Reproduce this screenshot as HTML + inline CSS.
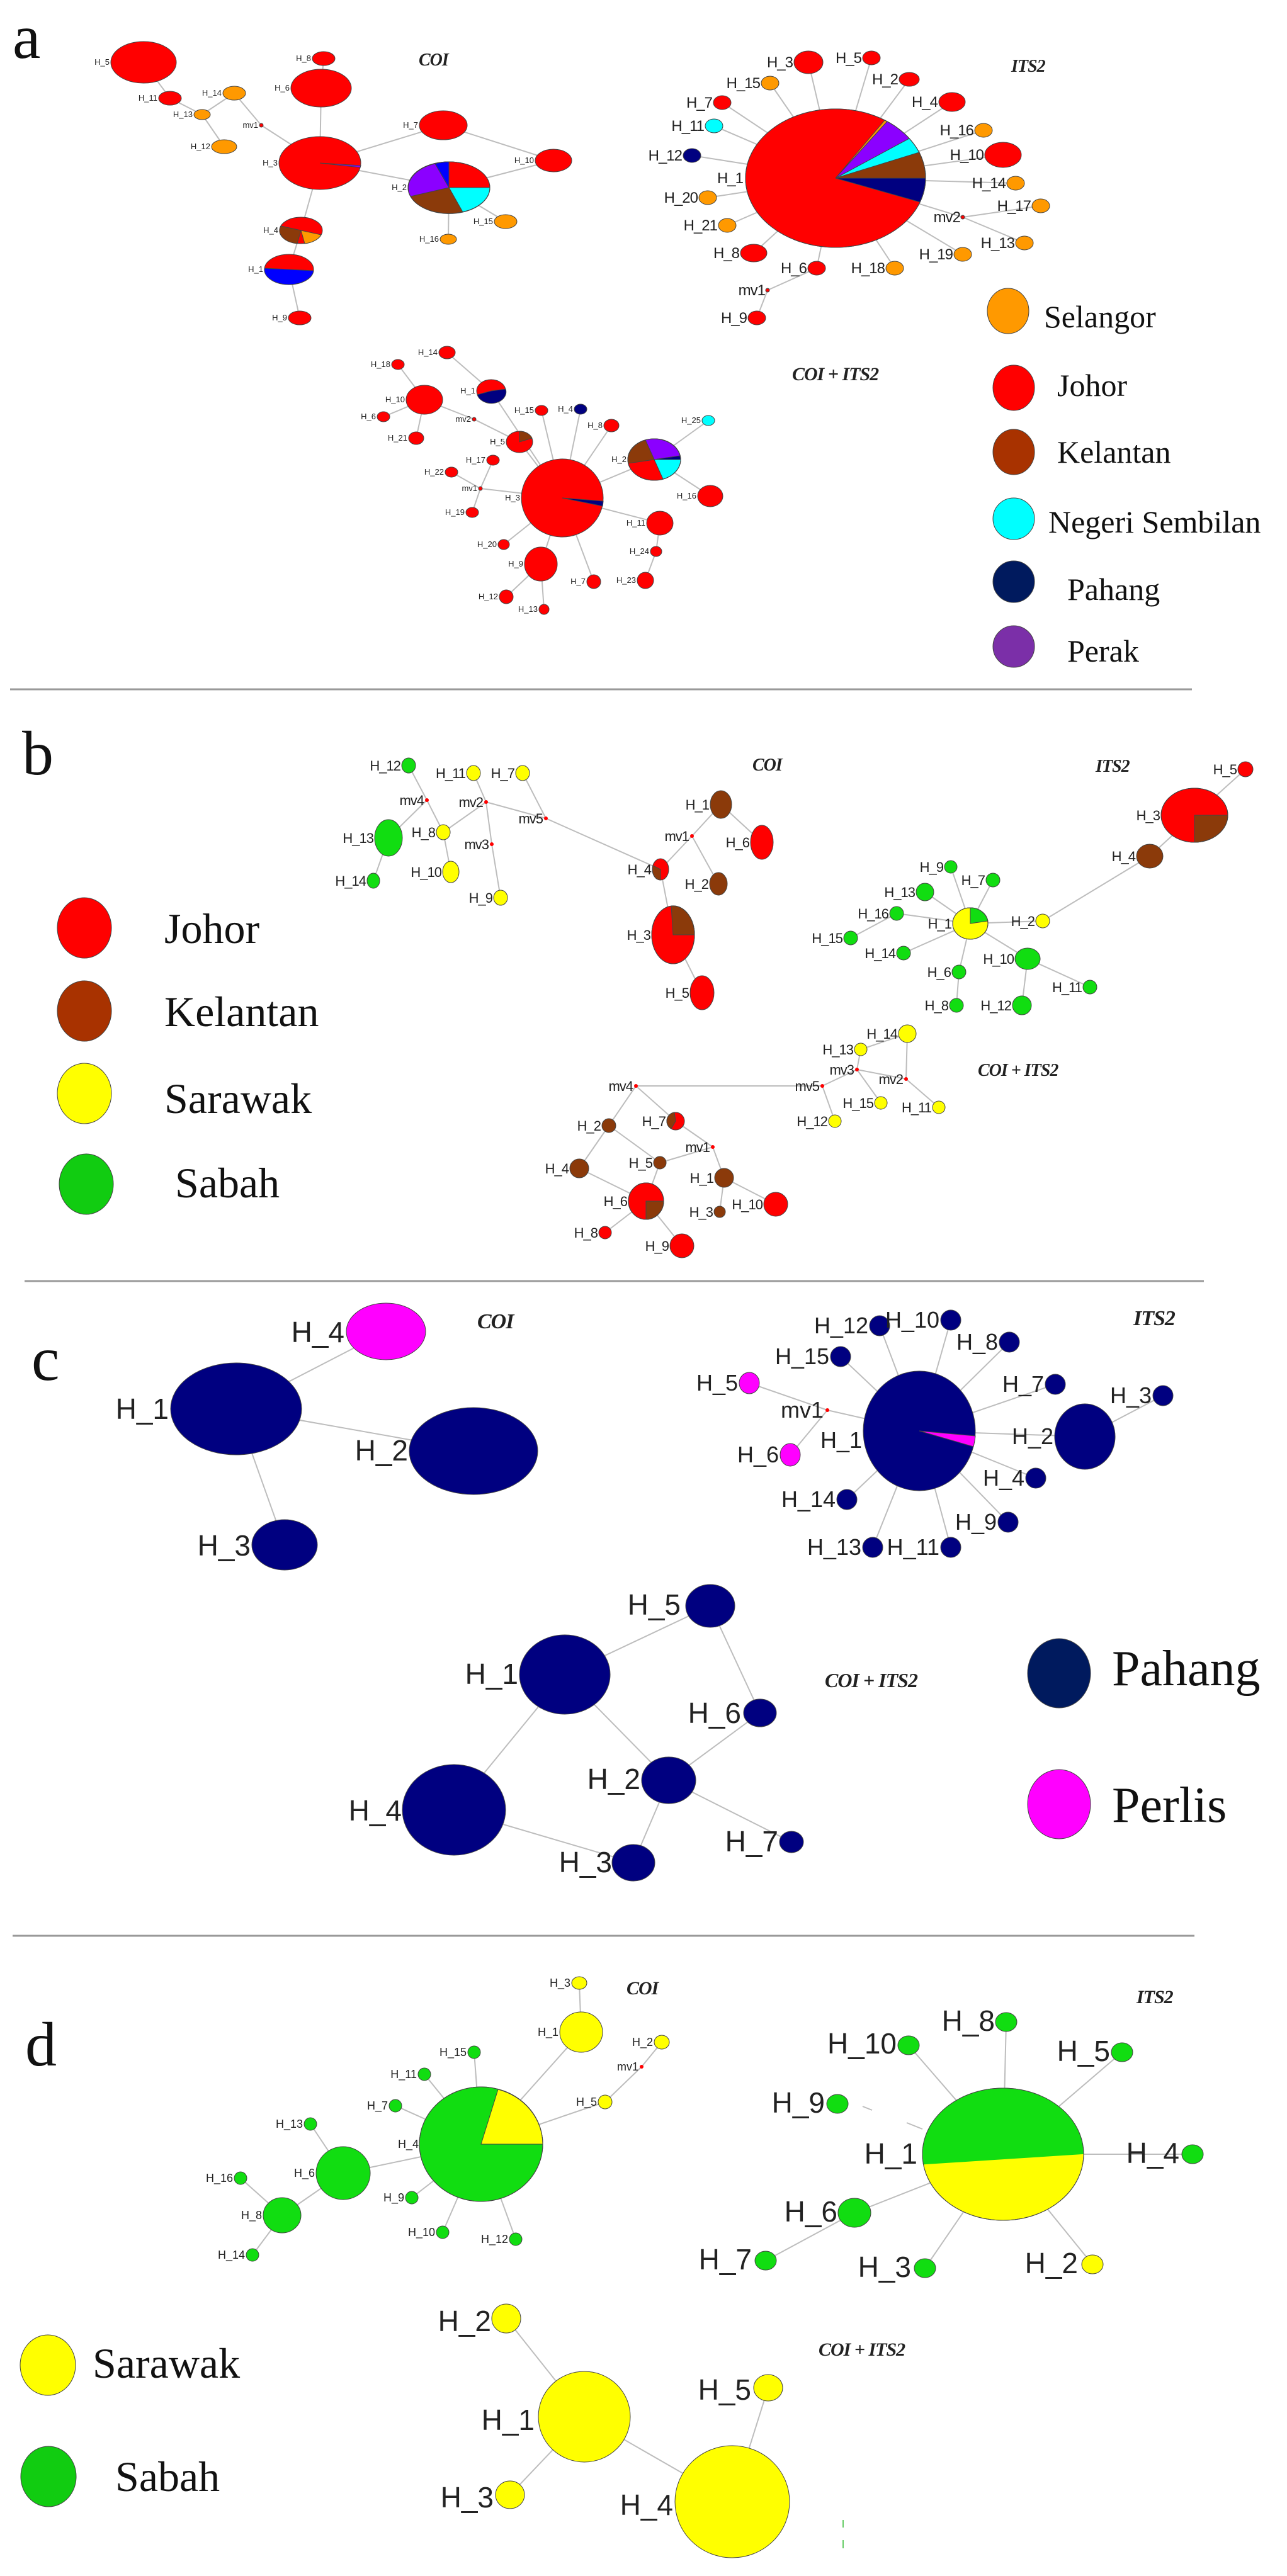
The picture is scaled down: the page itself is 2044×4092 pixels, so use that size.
<!DOCTYPE html>
<html><head><meta charset="utf-8"><style>
body{margin:0;background:#fff}
svg{display:block}
.e line{stroke:#bdbdbd;stroke-width:2}
.n ellipse,.n path{stroke:#444;stroke-width:1}
text{font-family:"Liberation Sans",sans-serif;fill:#222}
.s{font-size:13px;text-anchor:end}
.m{font-size:24px;text-anchor:end;letter-spacing:-1px}
.b{font-size:22px;text-anchor:end;letter-spacing:-1px}
.c{font-size:36px;text-anchor:end}
.L{font-size:46px;text-anchor:end}
.d{font-size:18px;text-anchor:end}
.t{font-family:"Liberation Serif",serif;font-style:italic;font-weight:bold;letter-spacing:-1px}
.g{font-family:"Liberation Serif",serif;fill:#111}
</style></head><body>
<svg width="2044" height="4092" viewBox="0 0 2044 4092" xmlns="http://www.w3.org/2000/svg">
<defs><clipPath id="cd"><ellipse cx="1593" cy="3422" rx="128" ry="105"/></clipPath></defs>
<rect width="2044" height="4092" fill="#fff"/>
<!-- ============ PANEL A ============ -->
<text class="g" x="20" y="92" font-size="100">a</text>
<text class="t" x="665" y="104" font-size="28">COI</text>
<text class="t" x="1606" y="114" font-size="28">ITS2</text>
<text class="t" x="1258" y="604" font-size="30">COI + ITS2</text>
<g class="e">
<line x1="228" y1="99" x2="270" y2="156"/><line x1="270" y1="156" x2="321" y2="182"/>
<line x1="321" y1="182" x2="372" y2="148"/><line x1="321" y1="182" x2="356" y2="233"/>
<line x1="372" y1="148" x2="415" y2="199"/><line x1="415" y1="199" x2="508" y2="259"/>
<line x1="514" y1="93" x2="510" y2="140"/><line x1="510" y1="140" x2="508" y2="259"/>
<line x1="508" y1="259" x2="704" y2="199"/><line x1="704" y1="199" x2="879" y2="255"/>
<line x1="508" y1="259" x2="713" y2="298"/><line x1="879" y1="255" x2="713" y2="298"/>
<line x1="713" y1="298" x2="803" y2="352"/><line x1="713" y1="298" x2="712" y2="380"/>
<line x1="508" y1="259" x2="478" y2="366"/><line x1="478" y1="366" x2="459" y2="428"/>
<line x1="459" y1="428" x2="476" y2="505"/>
<line x1="1327" y1="283" x2="1284" y2="99"/><line x1="1327" y1="283" x2="1384" y2="92"/>
<line x1="1327" y1="283" x2="1444" y2="126"/><line x1="1327" y1="283" x2="1223" y2="132"/>
<line x1="1327" y1="283" x2="1512" y2="162"/><line x1="1327" y1="283" x2="1147" y2="163"/>
<line x1="1327" y1="283" x2="1562" y2="207"/><line x1="1327" y1="283" x2="1134" y2="200"/>
<line x1="1327" y1="283" x2="1593" y2="246"/><line x1="1327" y1="283" x2="1099" y2="247"/>
<line x1="1327" y1="283" x2="1613" y2="291"/><line x1="1327" y1="283" x2="1124" y2="314"/>
<line x1="1327" y1="283" x2="1529" y2="345"/><line x1="1327" y1="283" x2="1155" y2="358"/>
<line x1="1327" y1="283" x2="1529" y2="404"/><line x1="1327" y1="283" x2="1197" y2="402"/>
<line x1="1327" y1="283" x2="1297" y2="426"/><line x1="1327" y1="283" x2="1421" y2="426"/>
<line x1="1529" y1="345" x2="1653" y2="327"/><line x1="1529" y1="345" x2="1627" y2="386"/>
<line x1="1297" y1="426" x2="1219" y2="461"/><line x1="1219" y1="461" x2="1202" y2="505"/>
<line x1="710" y1="560" x2="780" y2="621"/><line x1="632" y1="579" x2="674" y2="635"/>
<line x1="674" y1="635" x2="609" y2="662"/><line x1="674" y1="635" x2="661" y2="696"/>
<line x1="674" y1="635" x2="753" y2="666"/><line x1="753" y1="666" x2="825" y2="702"/>
<line x1="825" y1="702" x2="893" y2="791"/><line x1="780" y1="621" x2="893" y2="791"/>
<line x1="860" y1="652" x2="893" y2="791"/><line x1="922" y1="650" x2="893" y2="791"/>
<line x1="971" y1="676" x2="893" y2="791"/><line x1="1039" y1="730" x2="893" y2="791"/>
<line x1="1039" y1="730" x2="1125" y2="668"/><line x1="1039" y1="730" x2="1128" y2="788"/>
<line x1="783" y1="731" x2="763" y2="776"/><line x1="717" y1="750" x2="763" y2="776"/>
<line x1="763" y1="776" x2="893" y2="791"/><line x1="750" y1="814" x2="763" y2="776"/>
<line x1="893" y1="791" x2="1048" y2="831"/><line x1="1048" y1="831" x2="1042" y2="876"/>
<line x1="893" y1="791" x2="800" y2="865"/><line x1="893" y1="791" x2="859" y2="896"/>
<line x1="859" y1="896" x2="804" y2="948"/><line x1="859" y1="896" x2="864" y2="968"/>
<line x1="893" y1="791" x2="943" y2="924"/><line x1="1042" y1="876" x2="1025" y2="922"/>
</g>
<g class="n">
<ellipse cx="228" cy="99" rx="52" ry="33" fill="#f00"/>
<ellipse cx="514" cy="93" rx="18" ry="11" fill="#f00"/>
<ellipse cx="510" cy="140" rx="48" ry="30" fill="#f00"/>
<ellipse cx="270" cy="156" rx="18" ry="11" fill="#f00"/>
<ellipse cx="372" cy="148" rx="18" ry="11" fill="#ff9900"/>
<ellipse cx="321" cy="182" rx="13" ry="8" fill="#ff9900"/>
<ellipse cx="356" cy="233" rx="20" ry="11" fill="#ff9900"/>
<ellipse cx="704" cy="199" rx="38" ry="23" fill="#f00"/>
<ellipse cx="508" cy="259" rx="65" ry="42" fill="#f00"/>
<path d="M508 259 L573 263 A65 42 0 0 1 572 266 Z" fill="#8b00ff" stroke="none"/>
<ellipse cx="879" cy="255" rx="29" ry="18" fill="#f00"/>
<ellipse cx="713" cy="298" rx="65" ry="41" fill="#f00"/>
<path d="M713 298 L778 298 A65 41 0 0 1 735 337 Z" fill="#00ffff" stroke="none"/>
<path d="M713 298 L735 337 A65 41 0 0 1 652 312 Z" fill="#8b3a0a" stroke="none"/>
<path d="M713 298 L652 312 A65 41 0 0 1 691 260 Z" fill="#8b00ff" stroke="none"/>
<path d="M713 298 L691 260 A65 41 0 0 1 713 257 Z" fill="#0000ff" stroke="none"/>
<ellipse cx="713" cy="298" rx="65" ry="41" fill="none"/>
<ellipse cx="803" cy="352" rx="18" ry="11" fill="#ff9900"/>
<ellipse cx="712" cy="380" rx="13" ry="8" fill="#ff9900"/>
<ellipse cx="478" cy="366" rx="34" ry="21" fill="#f00"/>
<path d="M478 366 L472 387 A34 21 0 0 1 446 359 Z" fill="#8b3a0a" stroke="none"/>
<path d="M478 366 L510 373 A34 21 0 0 1 484 387 Z" fill="#ff9900" stroke="none"/>
<ellipse cx="459" cy="428" rx="39" ry="24" fill="#f00"/>
<path d="M498 430 A39 24 0 0 1 420 426 Z" fill="#0000ff" stroke="none"/>
<ellipse cx="476" cy="505" rx="18" ry="11" fill="#f00"/>
<ellipse cx="415" cy="199" rx="3" ry="3" fill="#f00" stroke="none"/>
<ellipse cx="1327" cy="283" rx="143" ry="110" fill="#f00"/>
<path d="M1327 283 L1405 191 A143 110 0 0 1 1409 193 Z" fill="#ff9900" stroke="none"/>
<path d="M1327 283 L1409 193 A143 110 0 0 1 1444 220 Z" fill="#8b00ff" stroke="none"/>
<path d="M1327 283 L1444 220 A143 110 0 0 1 1460 242 Z" fill="#00ffff" stroke="none"/>
<path d="M1327 283 L1460 242 A143 110 0 0 1 1470 283 Z" fill="#8b3a0a" stroke="none"/>
<path d="M1327 283 L1470 283 A143 110 0 0 1 1461 321 Z" fill="#000080" stroke="none"/>
<ellipse cx="1327" cy="283" rx="143" ry="110" fill="none"/>
<ellipse cx="1284" cy="99" rx="23" ry="18" fill="#f00"/>
<ellipse cx="1384" cy="92" rx="14" ry="11" fill="#f00"/>
<ellipse cx="1444" cy="126" rx="16" ry="11" fill="#f00"/>
<ellipse cx="1223" cy="132" rx="14" ry="11" fill="#ff9900"/>
<ellipse cx="1512" cy="162" rx="21" ry="15" fill="#f00"/>
<ellipse cx="1147" cy="163" rx="14" ry="11" fill="#f00"/>
<ellipse cx="1562" cy="207" rx="14" ry="11" fill="#ff9900"/>
<ellipse cx="1134" cy="200" rx="14" ry="11" fill="#00ffff"/>
<ellipse cx="1593" cy="246" rx="29" ry="20" fill="#f00"/>
<ellipse cx="1099" cy="247" rx="14" ry="11" fill="#000080"/>
<ellipse cx="1613" cy="291" rx="14" ry="11" fill="#ff9900"/>
<ellipse cx="1124" cy="314" rx="14" ry="11" fill="#ff9900"/>
<ellipse cx="1653" cy="327" rx="14" ry="11" fill="#ff9900"/>
<ellipse cx="1155" cy="358" rx="14" ry="11" fill="#ff9900"/>
<ellipse cx="1627" cy="386" rx="14" ry="11" fill="#ff9900"/>
<ellipse cx="1529" cy="404" rx="14" ry="11" fill="#ff9900"/>
<ellipse cx="1197" cy="402" rx="21" ry="14" fill="#f00"/>
<ellipse cx="1297" cy="426" rx="14" ry="11" fill="#f00"/>
<ellipse cx="1421" cy="426" rx="14" ry="11" fill="#ff9900"/>
<ellipse cx="1202" cy="505" rx="14" ry="11" fill="#f00"/>
<ellipse cx="1529" cy="345" rx="3" ry="3" fill="#f00" stroke="none"/>
<ellipse cx="1219" cy="461" rx="3" ry="3" fill="#f00" stroke="none"/>
<ellipse cx="710" cy="560" rx="13" ry="10" fill="#f00"/>
<ellipse cx="632" cy="579" rx="10" ry="8" fill="#f00"/>
<ellipse cx="780" cy="621" rx="23" ry="18" fill="#f00"/>
<path d="M780 621 L803 618 A23 18 0 0 1 758 627 Z" fill="#000080" stroke="none"/>
<ellipse cx="674" cy="635" rx="29" ry="23" fill="#f00"/>
<ellipse cx="609" cy="662" rx="10" ry="8" fill="#f00"/>
<ellipse cx="860" cy="652" rx="10" ry="8" fill="#f00"/>
<ellipse cx="922" cy="650" rx="10" ry="8" fill="#000080"/>
<ellipse cx="971" cy="676" rx="12" ry="10" fill="#f00"/>
<ellipse cx="1125" cy="668" rx="10" ry="8" fill="#00ffff"/>
<ellipse cx="661" cy="696" rx="12" ry="10" fill="#f00"/>
<ellipse cx="825" cy="702" rx="21" ry="17" fill="#f00"/>
<path d="M825 702 L825 685 A21 17 0 0 1 845 696 Z" fill="#8b3a0a" stroke="none"/>
<ellipse cx="1039" cy="730" rx="42" ry="33" fill="#f00"/>
<path d="M1039 730 L1025 699 A42 33 0 0 1 1080 724 Z" fill="#8b00ff" stroke="none"/>
<path d="M1039 730 L1080 724 A42 33 0 0 1 1081 730 Z" fill="#000080" stroke="none"/>
<path d="M1039 730 L1081 730 A42 33 0 0 1 1053 761 Z" fill="#00ffff" stroke="none"/>
<path d="M1039 730 L998 736 A42 33 0 0 1 1025 699 Z" fill="#8b3a0a" stroke="none"/>
<ellipse cx="1039" cy="730" rx="42" ry="33" fill="none"/>
<ellipse cx="783" cy="731" rx="10" ry="8" fill="#f00"/>
<ellipse cx="717" cy="750" rx="10" ry="8" fill="#f00"/>
<ellipse cx="893" cy="791" rx="65" ry="62" fill="#f00"/>
<path d="M893 791 L958 796 A65 62 0 0 1 957 804 Z" fill="#000080" stroke="none"/>
<ellipse cx="1128" cy="788" rx="20" ry="17" fill="#f00"/>
<ellipse cx="750" cy="814" rx="10" ry="8" fill="#f00"/>
<ellipse cx="1048" cy="831" rx="21" ry="19" fill="#f00"/>
<ellipse cx="800" cy="865" rx="9" ry="8" fill="#f00"/>
<ellipse cx="1042" cy="876" rx="9" ry="8" fill="#f00"/>
<ellipse cx="859" cy="896" rx="26" ry="27" fill="#f00"/>
<ellipse cx="943" cy="924" rx="11" ry="11" fill="#f00"/>
<ellipse cx="1025" cy="922" rx="13" ry="13" fill="#f00"/>
<ellipse cx="804" cy="948" rx="11" ry="11" fill="#f00"/>
<ellipse cx="864" cy="968" rx="8" ry="8" fill="#f00"/>
<ellipse cx="753" cy="666" rx="3" ry="3" fill="#f00" stroke="none"/>
<ellipse cx="763" cy="776" rx="3" ry="3" fill="#f00" stroke="none"/>
</g>
<g>
<text class="s" x="174" y="103">H_5</text><text class="s" x="494" y="97">H_8</text>
<text class="s" x="460" y="144">H_6</text><text class="s" x="250" y="160">H_11</text>
<text class="s" x="352" y="152">H_14</text><text class="s" x="306" y="186">H_13</text>
<text class="s" x="410" y="203">mv1</text><text class="s" x="334" y="237">H_12</text>
<text class="s" x="664" y="203">H_7</text><text class="s" x="441" y="263">H_3</text>
<text class="s" x="848" y="259">H_10</text><text class="s" x="646" y="302">H_2</text>
<text class="s" x="783" y="356">H_15</text><text class="s" x="697" y="384">H_16</text>
<text class="s" x="442" y="370">H_4</text><text class="s" x="418" y="432">H_1</text>
<text class="s" x="456" y="509">H_9</text>
<text class="m" x="1259" y="107">H_3</text><text class="m" x="1368" y="100">H_5</text>
<text class="m" x="1426" y="134">H_2</text><text class="m" x="1207" y="140">H_15</text>
<text class="m" x="1489" y="170">H_4</text><text class="m" x="1131" y="171">H_7</text>
<text class="m" x="1546" y="215">H_16</text><text class="m" x="1118" y="208">H_11</text>
<text class="m" x="1562" y="254">H_10</text><text class="m" x="1083" y="255">H_12</text>
<text class="m" x="1597" y="299">H_14</text><text class="m" x="1108" y="322">H_20</text>
<text class="m" x="1637" y="335">H_17</text><text class="m" x="1525" y="353">mv2</text>
<text class="m" x="1139" y="366">H_21</text><text class="m" x="1611" y="394">H_13</text>
<text class="m" x="1513" y="412">H_19</text><text class="m" x="1174" y="410">H_8</text>
<text class="m" x="1281" y="434">H_6</text><text class="m" x="1405" y="434">H_18</text>
<text class="m" x="1215" y="469">mv1</text><text class="m" x="1186" y="513">H_9</text>
<text class="m" x="1180" y="291">H_1</text>
<text class="s" x="695" y="564">H_14</text><text class="s" x="620" y="583">H_18</text>
<text class="s" x="755" y="625">H_1</text><text class="s" x="643" y="639">H_10</text>
<text class="s" x="597" y="666">H_6</text><text class="s" x="748" y="670">mv2</text>
<text class="s" x="848" y="656">H_15</text><text class="s" x="910" y="654">H_4</text>
<text class="s" x="957" y="680">H_8</text><text class="s" x="1113" y="672">H_25</text>
<text class="s" x="647" y="700">H_21</text><text class="s" x="802" y="706">H_5</text>
<text class="s" x="995" y="734">H_2</text><text class="s" x="771" y="735">H_17</text>
<text class="s" x="705" y="754">H_22</text><text class="s" x="758" y="780">mv1</text>
<text class="s" x="826" y="795">H_3</text><text class="s" x="1106" y="792">H_16</text>
<text class="s" x="738" y="818">H_19</text><text class="s" x="1025" y="835">H_11</text>
<text class="s" x="789" y="869">H_20</text><text class="s" x="1031" y="880">H_24</text>
<text class="s" x="831" y="900">H_9</text><text class="s" x="930" y="928">H_7</text>
<text class="s" x="1010" y="926">H_23</text><text class="s" x="791" y="952">H_12</text>
<text class="s" x="854" y="972">H_13</text>
</g>
<g class="n">
<ellipse cx="1601" cy="494" rx="33" ry="36" fill="#ff9900" stroke="#000" stroke-width="2"/>
<ellipse cx="1610" cy="616" rx="33" ry="36" fill="#f00" stroke="#000" stroke-width="2"/>
<ellipse cx="1610" cy="718" rx="33" ry="36" fill="#a83200" stroke="#000" stroke-width="2"/>
<ellipse cx="1610" cy="824" rx="33" ry="33" fill="#00ffff" stroke="#000" stroke-width="2"/>
<ellipse cx="1610" cy="924" rx="33" ry="33" fill="#001a5e" stroke="#000" stroke-width="2"/>
<ellipse cx="1610" cy="1027" rx="33" ry="33" fill="#7b2fa8" stroke="#000" stroke-width="2"/>
</g>
<text class="g" x="1658" y="520" font-size="50">Selangor</text>
<text class="g" x="1679" y="629" font-size="50">Johor</text>
<text class="g" x="1679" y="735" font-size="50">Kelantan</text>
<text class="g" x="1665" y="846" font-size="50">Negeri Sembilan</text>
<text class="g" x="1695" y="953" font-size="50">Pahang</text>
<text class="g" x="1695" y="1051" font-size="50">Perak</text>
<line x1="16" y1="1095" x2="1893" y2="1095" stroke="#999" stroke-width="3"/>

<!-- ============ PANEL B ============ -->
<text class="g" x="35" y="1230" font-size="100">b</text>
<text class="t" x="1195" y="1224" font-size="28">COI</text>
<text class="t" x="1740" y="1226" font-size="28">ITS2</text>
<text class="t" x="1553" y="1709" font-size="28">COI + ITS2</text>
<g class="e">
<line x1="649" y1="1216" x2="678" y2="1271"/><line x1="678" y1="1271" x2="617" y2="1331"/>
<line x1="617" y1="1331" x2="593" y2="1399"/><line x1="678" y1="1271" x2="704" y2="1322"/>
<line x1="752" y1="1228" x2="772" y2="1274"/><line x1="772" y1="1274" x2="704" y2="1322"/>
<line x1="704" y1="1322" x2="716" y2="1385"/><line x1="772" y1="1274" x2="781" y2="1341"/>
<line x1="781" y1="1341" x2="795" y2="1426"/><line x1="772" y1="1274" x2="867" y2="1300"/>
<line x1="830" y1="1228" x2="867" y2="1300"/><line x1="867" y1="1300" x2="1049" y2="1381"/>
<line x1="1049" y1="1381" x2="1099" y2="1328"/><line x1="1099" y1="1328" x2="1145" y2="1278"/>
<line x1="1145" y1="1278" x2="1210" y2="1338"/><line x1="1099" y1="1328" x2="1141" y2="1404"/>
<line x1="1049" y1="1381" x2="1069" y2="1485"/><line x1="1069" y1="1485" x2="1115" y2="1577"/>
<line x1="1978" y1="1222" x2="1897" y2="1295"/><line x1="1897" y1="1295" x2="1826" y2="1360"/>
<line x1="1826" y1="1360" x2="1656" y2="1463"/><line x1="1656" y1="1463" x2="1541" y2="1467"/>
<line x1="1541" y1="1467" x2="1510" y2="1377"/><line x1="1541" y1="1467" x2="1577" y2="1398"/>
<line x1="1541" y1="1467" x2="1469" y2="1417"/><line x1="1541" y1="1467" x2="1424" y2="1451"/>
<line x1="1541" y1="1467" x2="1435" y2="1514"/><line x1="1541" y1="1467" x2="1523" y2="1544"/>
<line x1="1541" y1="1467" x2="1632" y2="1523"/><line x1="1424" y1="1451" x2="1351" y2="1490"/>
<line x1="1632" y1="1523" x2="1731" y2="1568"/><line x1="1632" y1="1523" x2="1623" y2="1597"/>
<line x1="1523" y1="1544" x2="1519" y2="1597"/>
<line x1="1441" y1="1642" x2="1367" y2="1667"/><line x1="1367" y1="1667" x2="1361" y2="1699"/>
<line x1="1441" y1="1642" x2="1439" y2="1714"/><line x1="1439" y1="1714" x2="1491" y2="1759"/>
<line x1="1361" y1="1699" x2="1439" y2="1714"/><line x1="1361" y1="1699" x2="1306" y2="1725"/>
<line x1="1361" y1="1699" x2="1399" y2="1752"/><line x1="1306" y1="1725" x2="1326" y2="1781"/>
<line x1="1306" y1="1725" x2="1010" y2="1725"/><line x1="1010" y1="1725" x2="967" y2="1788"/>
<line x1="1010" y1="1725" x2="1073" y2="1781"/><line x1="967" y1="1788" x2="920" y2="1856"/>
<line x1="967" y1="1788" x2="1048" y2="1847"/><line x1="1073" y1="1781" x2="1132" y2="1822"/>
<line x1="1132" y1="1822" x2="1048" y2="1847"/><line x1="1132" y1="1822" x2="1150" y2="1871"/>
<line x1="1150" y1="1871" x2="1143" y2="1925"/><line x1="1150" y1="1871" x2="1232" y2="1913"/>
<line x1="920" y1="1856" x2="1026" y2="1908"/><line x1="1048" y1="1847" x2="1026" y2="1908"/>
<line x1="1026" y1="1908" x2="961" y2="1958"/><line x1="1026" y1="1908" x2="1083" y2="1979"/>
</g>
<g class="n">
<ellipse cx="649" cy="1216" rx="11" ry="12" fill="#1d1"/>
<ellipse cx="752" cy="1228" rx="11" ry="12" fill="#ff0"/>
<ellipse cx="830" cy="1228" rx="11" ry="12" fill="#ff0"/>
<ellipse cx="617" cy="1331" rx="22" ry="29" fill="#1d1"/>
<ellipse cx="704" cy="1322" rx="11" ry="12" fill="#ff0"/>
<ellipse cx="593" cy="1399" rx="10" ry="12" fill="#1d1"/>
<ellipse cx="716" cy="1385" rx="13" ry="17" fill="#ff0"/>
<ellipse cx="795" cy="1426" rx="11" ry="12" fill="#ff0"/>
<ellipse cx="1145" cy="1278" rx="17" ry="22" fill="#8b3a0a"/>
<ellipse cx="1210" cy="1338" rx="18" ry="27" fill="#f00"/>
<ellipse cx="1049" cy="1381" rx="13" ry="17" fill="#f00"/>
<path d="M1049 1381 L1049 1398 A13 17 0 0 1 1037 1375 Z" fill="#8b3a0a" stroke="none"/>
<ellipse cx="1141" cy="1404" rx="14" ry="18" fill="#8b3a0a"/>
<ellipse cx="1069" cy="1485" rx="34" ry="46" fill="#f00"/>
<path d="M1069 1485 L1066 1439 A34 46 0 0 1 1103 1485 Z" fill="#8b3a0a" stroke="none"/>
<ellipse cx="1069" cy="1485" rx="34" ry="46" fill="none"/>
<ellipse cx="1115" cy="1577" rx="19" ry="27" fill="#f00"/>
<ellipse cx="1978" cy="1222" rx="12" ry="12" fill="#f00"/>
<ellipse cx="1897" cy="1295" rx="53" ry="43" fill="#f00"/>
<path d="M1897 1295 L1950 1295 A53 43 0 0 1 1897 1338 Z" fill="#8b3a0a" stroke="none"/>
<ellipse cx="1897" cy="1295" rx="53" ry="43" fill="none"/>
<ellipse cx="1826" cy="1360" rx="21" ry="19" fill="#8b3a0a"/>
<ellipse cx="1510" cy="1377" rx="10" ry="10" fill="#1d1"/>
<ellipse cx="1577" cy="1398" rx="11" ry="11" fill="#1d1"/>
<ellipse cx="1469" cy="1417" rx="14" ry="14" fill="#1d1"/>
<ellipse cx="1424" cy="1451" rx="11" ry="11" fill="#1d1"/>
<ellipse cx="1541" cy="1467" rx="28" ry="25" fill="#ff0"/>
<path d="M1541 1467 L1541 1442 A28 25 0 0 1 1569 1463 Z" fill="#1d1" stroke="none"/>
<ellipse cx="1541" cy="1467" rx="28" ry="25" fill="none"/>
<ellipse cx="1656" cy="1463" rx="11" ry="11" fill="#ff0"/>
<ellipse cx="1351" cy="1490" rx="11" ry="11" fill="#1d1"/>
<ellipse cx="1435" cy="1514" rx="11" ry="11" fill="#1d1"/>
<ellipse cx="1632" cy="1523" rx="20" ry="17" fill="#1d1"/>
<ellipse cx="1523" cy="1544" rx="11" ry="11" fill="#1d1"/>
<ellipse cx="1731" cy="1568" rx="11" ry="11" fill="#1d1"/>
<ellipse cx="1519" cy="1597" rx="11" ry="11" fill="#1d1"/>
<ellipse cx="1623" cy="1597" rx="15" ry="15" fill="#1d1"/>
<ellipse cx="1441" cy="1642" rx="14" ry="14" fill="#ff0"/>
<ellipse cx="1367" cy="1667" rx="10" ry="10" fill="#ff0"/>
<ellipse cx="1399" cy="1752" rx="10" ry="10" fill="#ff0"/>
<ellipse cx="1491" cy="1759" rx="10" ry="10" fill="#ff0"/>
<ellipse cx="1326" cy="1781" rx="10" ry="10" fill="#ff0"/>
<ellipse cx="967" cy="1788" rx="11" ry="11" fill="#8b3a0a"/>
<ellipse cx="1073" cy="1781" rx="14" ry="14" fill="#f00"/>
<path d="M1073 1781 L1066 1793 A14 14 0 0 1 1071 1767 Z" fill="#8b3a0a" stroke="none"/>
<ellipse cx="1048" cy="1847" rx="10" ry="10" fill="#8b3a0a"/>
<ellipse cx="920" cy="1856" rx="15" ry="15" fill="#8b3a0a"/>
<ellipse cx="1150" cy="1871" rx="15" ry="15" fill="#8b3a0a"/>
<ellipse cx="1026" cy="1908" rx="28" ry="29" fill="#f00"/>
<path d="M1026 1908 L1054 1908 A28 29 0 0 1 1026 1937 Z" fill="#8b3a0a" stroke="none"/>
<ellipse cx="1026" cy="1908" rx="28" ry="29" fill="none"/>
<ellipse cx="1143" cy="1925" rx="9" ry="9" fill="#8b3a0a"/>
<ellipse cx="1232" cy="1913" rx="19" ry="19" fill="#f00"/>
<ellipse cx="961" cy="1958" rx="10" ry="10" fill="#f00"/>
<ellipse cx="1083" cy="1979" rx="19" ry="19" fill="#f00"/>
<g fill="#f00" stroke="none">
<circle cx="678" cy="1271" r="3"/><circle cx="772" cy="1274" r="3"/><circle cx="867" cy="1300" r="3"/>
<circle cx="781" cy="1341" r="3"/><circle cx="1099" cy="1328" r="3"/><circle cx="1361" cy="1699" r="3"/>
<circle cx="1439" cy="1714" r="3"/><circle cx="1306" cy="1725" r="3"/><circle cx="1010" cy="1725" r="3"/>
<circle cx="1132" cy="1822" r="3"/></g>
</g>
<g>
<text class="b" x="636" y="1224">H_12</text><text class="b" x="739" y="1236">H_11</text>
<text class="b" x="817" y="1236">H_7</text><text class="b" x="673" y="1279">mv4</text>
<text class="b" x="767" y="1282">mv2</text><text class="b" x="862" y="1308">mv5</text>
<text class="b" x="593" y="1339">H_13</text><text class="b" x="691" y="1330">H_8</text>
<text class="b" x="776" y="1349">mv3</text><text class="b" x="581" y="1407">H_14</text>
<text class="b" x="701" y="1393">H_10</text><text class="b" x="782" y="1434">H_9</text>
<text class="b" x="1126" y="1286">H_1</text><text class="b" x="1094" y="1336">mv1</text>
<text class="b" x="1190" y="1346">H_6</text><text class="b" x="1034" y="1389">H_4</text>
<text class="b" x="1125" y="1412">H_2</text><text class="b" x="1033" y="1493">H_3</text>
<text class="b" x="1094" y="1585">H_5</text>
<text class="b" x="1964" y="1230">H_5</text><text class="b" x="1842" y="1303">H_3</text>
<text class="b" x="1803" y="1368">H_4</text><text class="b" x="1498" y="1385">H_9</text>
<text class="b" x="1564" y="1406">H_7</text><text class="b" x="1453" y="1425">H_13</text>
<text class="b" x="1411" y="1459">H_16</text><text class="b" x="1511" y="1475">H_1</text>
<text class="b" x="1643" y="1471">H_2</text><text class="b" x="1338" y="1498">H_15</text>
<text class="b" x="1422" y="1522">H_14</text><text class="b" x="1610" y="1531">H_10</text>
<text class="b" x="1510" y="1552">H_6</text><text class="b" x="1718" y="1576">H_11</text>
<text class="b" x="1506" y="1605">H_8</text><text class="b" x="1606" y="1605">H_12</text>
<text class="b" x="1425" y="1650">H_14</text><text class="b" x="1355" y="1675">H_13</text>
<text class="b" x="1356" y="1707">mv3</text><text class="b" x="1434" y="1722">mv2</text>
<text class="b" x="1301" y="1733">mv5</text><text class="b" x="1005" y="1733">mv4</text>
<text class="b" x="1387" y="1760">H_15</text><text class="b" x="1479" y="1767">H_11</text>
<text class="b" x="1314" y="1789">H_12</text><text class="b" x="954" y="1796">H_2</text>
<text class="b" x="1057" y="1789">H_7</text><text class="b" x="1127" y="1830">mv1</text>
<text class="b" x="1036" y="1855">H_5</text><text class="b" x="903" y="1864">H_4</text>
<text class="b" x="1133" y="1879">H_1</text><text class="b" x="996" y="1916">H_6</text>
<text class="b" x="1132" y="1933">H_3</text><text class="b" x="1211" y="1921">H_10</text>
<text class="b" x="949" y="1966">H_8</text><text class="b" x="1062" y="1987">H_9</text>
</g>
<g class="n">
<ellipse cx="134" cy="1474" rx="43" ry="48" fill="#f00" stroke="#000" stroke-width="2"/>
<ellipse cx="134" cy="1606" rx="43" ry="48" fill="#a83200" stroke="#000" stroke-width="2"/>
<ellipse cx="134" cy="1737" rx="43" ry="48" fill="#ff0" stroke="#000" stroke-width="2"/>
<ellipse cx="137" cy="1881" rx="43" ry="48" fill="#1c1" stroke="#000" stroke-width="2"/>
</g>
<text class="g" x="261" y="1498" font-size="68">Johor</text>
<text class="g" x="261" y="1630" font-size="68">Kelantan</text>
<text class="g" x="261" y="1768" font-size="68">Sarawak</text>
<text class="g" x="278" y="1902" font-size="68">Sabah</text>
<line x1="39" y1="2035" x2="1912" y2="2035" stroke="#999" stroke-width="3"/>

<!-- ============ PANEL C ============ -->
<text class="g" x="50" y="2192" font-size="100">c</text>
<text class="t" x="758" y="2110" font-size="34">COI</text>
<text class="t" x="1800" y="2105" font-size="34">ITS2</text>
<text class="t" x="1310" y="2680" font-size="32">COI + ITS2</text>
<g class="e">
<line x1="375" y1="2238" x2="613" y2="2115"/><line x1="375" y1="2238" x2="752" y2="2305"/>
<line x1="375" y1="2238" x2="452" y2="2454"/>
<line x1="1460" y1="2273" x2="1397" y2="2106"/><line x1="1460" y1="2273" x2="1510" y2="2097"/>
<line x1="1460" y1="2273" x2="1603" y2="2132"/><line x1="1460" y1="2273" x2="1335" y2="2155"/>
<line x1="1460" y1="2273" x2="1676" y2="2199"/><line x1="1460" y1="2273" x2="1723" y2="2282"/>
<line x1="1460" y1="2273" x2="1314" y2="2240"/><line x1="1460" y1="2273" x2="1645" y2="2348"/>
<line x1="1460" y1="2273" x2="1345" y2="2382"/><line x1="1460" y1="2273" x2="1601" y2="2418"/>
<line x1="1460" y1="2273" x2="1386" y2="2458"/><line x1="1460" y1="2273" x2="1510" y2="2458"/>
<line x1="1314" y1="2240" x2="1190" y2="2197"/><line x1="1314" y1="2240" x2="1255" y2="2311"/>
<line x1="1723" y1="2282" x2="1847" y2="2217"/>
<line x1="897" y1="2660" x2="1128" y2="2551"/><line x1="1128" y1="2551" x2="1207" y2="2721"/>
<line x1="1207" y1="2721" x2="1062" y2="2828"/><line x1="897" y1="2660" x2="1062" y2="2828"/>
<line x1="897" y1="2660" x2="721" y2="2875"/><line x1="721" y1="2875" x2="1006" y2="2959"/>
<line x1="1062" y1="2828" x2="1006" y2="2959"/><line x1="1062" y1="2828" x2="1257" y2="2926"/>
</g>
<g class="n">
<ellipse cx="613" cy="2115" rx="63" ry="45" fill="#f0f"/>
<ellipse cx="375" cy="2238" rx="104" ry="73" fill="#000080"/>
<ellipse cx="752" cy="2305" rx="102" ry="69" fill="#000080"/>
<ellipse cx="452" cy="2454" rx="52" ry="40" fill="#000080"/>
<ellipse cx="1460" cy="2273" rx="89" ry="95" fill="#000080"/>
<path d="M1460 2273 L1549 2281 A89 95 0 0 1 1546 2298 Z" fill="#f0f" stroke="none"/>
<ellipse cx="1397" cy="2106" rx="16" ry="16" fill="#000080"/>
<ellipse cx="1510" cy="2097" rx="16" ry="16" fill="#000080"/>
<ellipse cx="1603" cy="2132" rx="16" ry="16" fill="#000080"/>
<ellipse cx="1335" cy="2155" rx="16" ry="16" fill="#000080"/>
<ellipse cx="1190" cy="2197" rx="16" ry="17" fill="#f0f"/>
<ellipse cx="1676" cy="2199" rx="16" ry="16" fill="#000080"/>
<ellipse cx="1847" cy="2217" rx="16" ry="16" fill="#000080"/>
<ellipse cx="1723" cy="2282" rx="48" ry="52" fill="#000080"/>
<ellipse cx="1255" cy="2311" rx="16" ry="18" fill="#f0f"/>
<ellipse cx="1645" cy="2348" rx="16" ry="16" fill="#000080"/>
<ellipse cx="1345" cy="2382" rx="16" ry="16" fill="#000080"/>
<ellipse cx="1601" cy="2418" rx="16" ry="16" fill="#000080"/>
<ellipse cx="1386" cy="2458" rx="16" ry="16" fill="#000080"/>
<ellipse cx="1510" cy="2458" rx="16" ry="16" fill="#000080"/>
<circle cx="1314" cy="2240" r="3" fill="#f00" stroke="none"/>
<ellipse cx="1128" cy="2551" rx="39" ry="34" fill="#000080"/>
<ellipse cx="897" cy="2660" rx="72" ry="63" fill="#000080"/>
<ellipse cx="1207" cy="2721" rx="26" ry="22" fill="#000080"/>
<ellipse cx="1062" cy="2828" rx="43" ry="37" fill="#000080"/>
<ellipse cx="721" cy="2875" rx="82" ry="72" fill="#000080"/>
<ellipse cx="1257" cy="2926" rx="19" ry="17" fill="#000080"/>
<ellipse cx="1006" cy="2959" rx="34" ry="29" fill="#000080"/>
</g>
<g>
<text class="L" x="547" y="2132">H_4</text><text class="L" x="268" y="2254">H_1</text>
<text class="L" x="648" y="2320">H_2</text><text class="L" x="398" y="2471">H_3</text>
<text class="c" x="1379" y="2118">H_12</text><text class="c" x="1492" y="2109">H_10</text>
<text class="c" x="1585" y="2144">H_8</text><text class="c" x="1317" y="2167">H_15</text>
<text class="c" x="1172" y="2209">H_5</text><text class="c" x="1658" y="2211">H_7</text>
<text class="c" x="1308" y="2252">mv1</text><text class="c" x="1829" y="2229">H_3</text>
<text class="c" x="1673" y="2294">H_2</text><text class="c" x="1369" y="2300">H_1</text>
<text class="c" x="1237" y="2323">H_6</text><text class="c" x="1627" y="2360">H_4</text>
<text class="c" x="1327" y="2394">H_14</text><text class="c" x="1583" y="2430">H_9</text>
<text class="c" x="1368" y="2470">H_13</text><text class="c" x="1492" y="2470">H_11</text>
<text class="L" x="1081" y="2565">H_5</text><text class="L" x="823" y="2675">H_1</text>
<text class="L" x="1177" y="2737">H_6</text><text class="L" x="1017" y="2842">H_2</text>
<text class="L" x="638" y="2892">H_4</text><text class="L" x="1236" y="2941">H_7</text>
<text class="L" x="972" y="2974">H_3</text>
</g>
<g class="n">
<ellipse cx="1682" cy="2658" rx="50" ry="55" fill="#001a5e" stroke="#000" stroke-width="2"/>
<ellipse cx="1682" cy="2866" rx="50" ry="55" fill="#f0f" stroke="#000" stroke-width="2"/>
</g>
<text class="g" x="1766" y="2677" font-size="80">Pahang</text>
<text class="g" x="1766" y="2894" font-size="80">Perlis</text>
<line x1="20" y1="3075" x2="1897" y2="3075" stroke="#999" stroke-width="3"/>

<!-- ============ PANEL D ============ -->
<text class="g" x="40" y="3281" font-size="100">d</text>
<text class="t" x="995" y="3168" font-size="30">COI</text>
<text class="t" x="1805" y="3182" font-size="30">ITS2</text>
<text class="t" x="1300" y="3742" font-size="30">COI + ITS2</text>
<g class="e">
<line x1="920" y1="3150" x2="923" y2="3228"/><line x1="923" y1="3228" x2="764" y2="3406"/>
<line x1="1051" y1="3244" x2="1019" y2="3283"/><line x1="1019" y1="3283" x2="961" y2="3339"/>
<line x1="961" y1="3339" x2="764" y2="3406"/>
<line x1="753" y1="3260" x2="764" y2="3406"/><line x1="674" y1="3295" x2="764" y2="3406"/>
<line x1="628" y1="3345" x2="764" y2="3406"/><line x1="764" y1="3406" x2="545" y2="3452"/>
<line x1="545" y1="3452" x2="493" y2="3374"/><line x1="545" y1="3452" x2="448" y2="3519"/>
<line x1="448" y1="3519" x2="382" y2="3460"/><line x1="448" y1="3519" x2="401" y2="3582"/>
<line x1="764" y1="3406" x2="654" y2="3491"/><line x1="764" y1="3406" x2="703" y2="3546"/>
<line x1="764" y1="3406" x2="819" y2="3557"/>
<line x1="1593" y1="3422" x2="1598" y2="3212"/><line x1="1593" y1="3422" x2="1443" y2="3249"/>
<line x1="1593" y1="3422" x2="1782" y2="3260"/><line x1="1593" y1="3422" x2="1894" y2="3422"/>
<line x1="1593" y1="3422" x2="1357" y2="3515"/><line x1="1357" y1="3515" x2="1216" y2="3591"/>
<line x1="1593" y1="3422" x2="1469" y2="3603"/><line x1="1593" y1="3422" x2="1735" y2="3597"/>
<line x1="1370" y1="3346" x2="1385" y2="3352"/><line x1="1440" y1="3372" x2="1465" y2="3382"/>
<line x1="804" y1="3683" x2="928" y2="3839"/><line x1="928" y1="3839" x2="810" y2="3963"/>
<line x1="928" y1="3839" x2="1163" y2="3974"/><line x1="1163" y1="3974" x2="1220" y2="3793"/>
</g>
<g class="n">
<ellipse cx="920" cy="3150" rx="12" ry="10" fill="#ff0"/>
<ellipse cx="923" cy="3228" rx="34" ry="32" fill="#ff0"/>
<ellipse cx="1051" cy="3244" rx="12" ry="11" fill="#ff0"/>
<ellipse cx="753" cy="3260" rx="10" ry="10" fill="#1d1"/>
<ellipse cx="674" cy="3295" rx="10" ry="10" fill="#1d1"/>
<ellipse cx="628" cy="3345" rx="10" ry="10" fill="#1d1"/>
<ellipse cx="961" cy="3339" rx="11" ry="11" fill="#ff0"/>
<ellipse cx="764" cy="3406" rx="98" ry="91" fill="#1d1"/>
<path d="M764 3406 L791 3319 A98 91 0 0 1 862 3406 Z" fill="#ff0" stroke="none"/>
<ellipse cx="764" cy="3406" rx="98" ry="91" fill="none"/>
<ellipse cx="493" cy="3374" rx="10" ry="10" fill="#1d1"/>
<ellipse cx="545" cy="3452" rx="43" ry="42" fill="#1d1"/>
<ellipse cx="382" cy="3460" rx="10" ry="10" fill="#1d1"/>
<ellipse cx="654" cy="3491" rx="10" ry="10" fill="#1d1"/>
<ellipse cx="448" cy="3519" rx="30" ry="28" fill="#1d1"/>
<ellipse cx="703" cy="3546" rx="10" ry="10" fill="#1d1"/>
<ellipse cx="819" cy="3557" rx="10" ry="10" fill="#1d1"/>
<ellipse cx="401" cy="3582" rx="10" ry="10" fill="#1d1"/>
<circle cx="1019" cy="3283" r="3" fill="#f00" stroke="none"/>
<ellipse cx="1593" cy="3422" rx="128" ry="105" fill="#ff0"/>
<polygon points="1440,3440 1750,3420 1750,3300 1440,3300" fill="#1d1" clip-path="url(#cd)"/>
<ellipse cx="1593" cy="3422" rx="128" ry="105" fill="none"/>
<ellipse cx="1598" cy="3212" rx="17" ry="15" fill="#1d1"/>
<ellipse cx="1443" cy="3249" rx="17" ry="15" fill="#1d1"/>
<ellipse cx="1782" cy="3260" rx="17" ry="15" fill="#1d1"/>
<ellipse cx="1330" cy="3342" rx="17" ry="15" fill="#1d1"/>
<ellipse cx="1894" cy="3422" rx="17" ry="15" fill="#1d1"/>
<ellipse cx="1357" cy="3515" rx="26" ry="23" fill="#1d1"/>
<ellipse cx="1216" cy="3591" rx="17" ry="15" fill="#1d1"/>
<ellipse cx="1469" cy="3603" rx="17" ry="15" fill="#1d1"/>
<ellipse cx="1735" cy="3597" rx="17" ry="15" fill="#ff0"/>
<ellipse cx="804" cy="3683" rx="23" ry="23" fill="#ff0"/>
<ellipse cx="928" cy="3839" rx="73" ry="72" fill="#ff0"/>
<ellipse cx="1220" cy="3793" rx="23" ry="21" fill="#ff0"/>
<ellipse cx="810" cy="3963" rx="23" ry="22" fill="#ff0"/>
<ellipse cx="1163" cy="3974" rx="91" ry="89" fill="#ff0"/>
</g>
<g>
<text class="d" x="906" y="3156">H_3</text><text class="d" x="887" y="3234">H_1</text>
<text class="d" x="1037" y="3250">H_2</text><text class="d" x="1014" y="3289">mv1</text>
<text class="d" x="741" y="3266">H_15</text><text class="d" x="662" y="3301">H_11</text>
<text class="d" x="616" y="3351">H_7</text><text class="d" x="948" y="3345">H_5</text>
<text class="d" x="665" y="3412">H_4</text><text class="d" x="481" y="3380">H_13</text>
<text class="d" x="500" y="3458">H_6</text><text class="d" x="370" y="3466">H_16</text>
<text class="d" x="642" y="3497">H_9</text><text class="d" x="416" y="3525">H_8</text>
<text class="d" x="691" y="3552">H_10</text><text class="d" x="807" y="3563">H_12</text>
<text class="d" x="389" y="3588">H_14</text>
<text class="L" x="1580" y="3226">H_8</text><text class="L" x="1424" y="3262">H_10</text>
<text class="L" x="1763" y="3274">H_5</text><text class="L" x="1310" y="3356">H_9</text>
<text class="L" x="1457" y="3437">H_1</text><text class="L" x="1873" y="3436">H_4</text>
<text class="L" x="1330" y="3529">H_6</text><text class="L" x="1194" y="3605">H_7</text>
<text class="L" x="1447" y="3617">H_3</text><text class="L" x="1712" y="3611">H_2</text>
<text class="L" x="780" y="3703">H_2</text><text class="L" x="849" y="3860">H_1</text>
<text class="L" x="1193" y="3812">H_5</text><text class="L" x="784" y="3983">H_3</text>
<text class="L" x="1069" y="3995">H_4</text>
</g>
<g class="n">
<ellipse cx="76" cy="3757" rx="44" ry="48" fill="#ff0" stroke="#000" stroke-width="2"/>
<ellipse cx="77" cy="3934" rx="44" ry="48" fill="#1c1" stroke="#000" stroke-width="2"/>
</g>
<text class="g" x="147" y="3777" font-size="68">Sarawak</text>
<text class="g" x="183" y="3957" font-size="68">Sabah</text>
<line x1="1339" y1="4003" x2="1339" y2="4015" stroke="#6c6" stroke-width="2"/>
<line x1="1339" y1="4035" x2="1339" y2="4048" stroke="#6c6" stroke-width="2"/>
</svg>
</body></html>
